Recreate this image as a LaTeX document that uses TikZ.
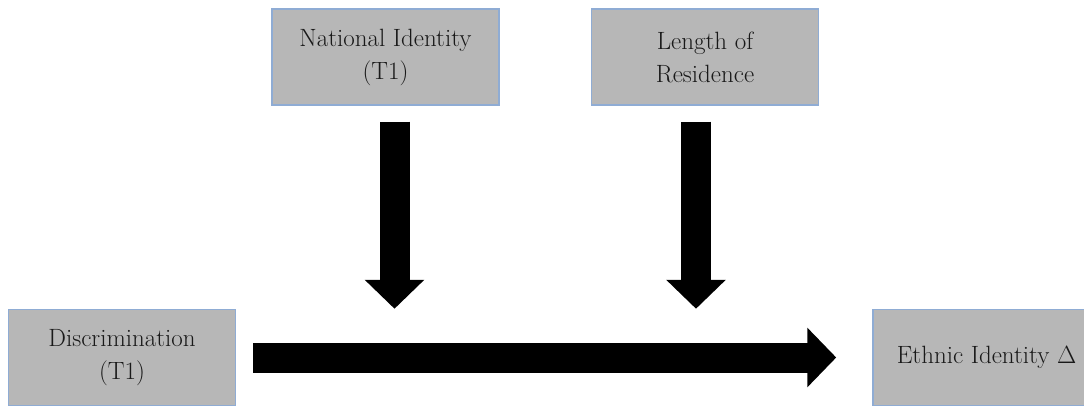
\documentclass[tikz,border=0pt]{standalone}
\usepackage[]{xcolor}
\usepackage{tikz}
\usepackage{amsmath}
\usetikzlibrary{shapes, arrows.meta, positioning}

\definecolor{boxfill}{RGB}{183,183,183}
\definecolor{boxline}{RGB}{143,172,212}

\begin{document}
\begin{tikzpicture}[x=1pt, y=1pt,
    box/.style={rectangle, draw=boxline, line width=1.5pt, fill=boxfill, minimum width=227pt, minimum height=96pt, align=center, font=\fontsize{25}{33}\selectfont, text=black!90},
    bigarrow/.style={line width=30pt, -{Triangle[length=29pt, width=58pt]}}]

    \useasboundingbox (0,0) rectangle (1084,-406);

    % Nodes
    \node (disc) [box] at (122,-357.5) {Discrimination\\(T1)};
    \node (nat) [above right=203pt and 35pt of disc, box] {National Identity\\(T1)};
    \node (len) [right=91pt of nat, box] {Length of\\Residence};
    \node (eth) [below right=203pt and 53pt of len, box] {Ethnic Identity\ $\Delta$};

    % Edges
    \draw[bigarrow, shorten <=16pt] ([xshift=9pt]nat.south) -- ([xshift=9pt]nat.south |- disc.north);
    \draw[bigarrow, shorten <=16pt] ([xshift=-9pt]len.south) -- ([xshift=-9pt]len.south |- disc.north);
    \draw[bigarrow, shorten <=17pt, shorten >=36pt] (disc) -- (eth);
\end{tikzpicture}
\end{document}
